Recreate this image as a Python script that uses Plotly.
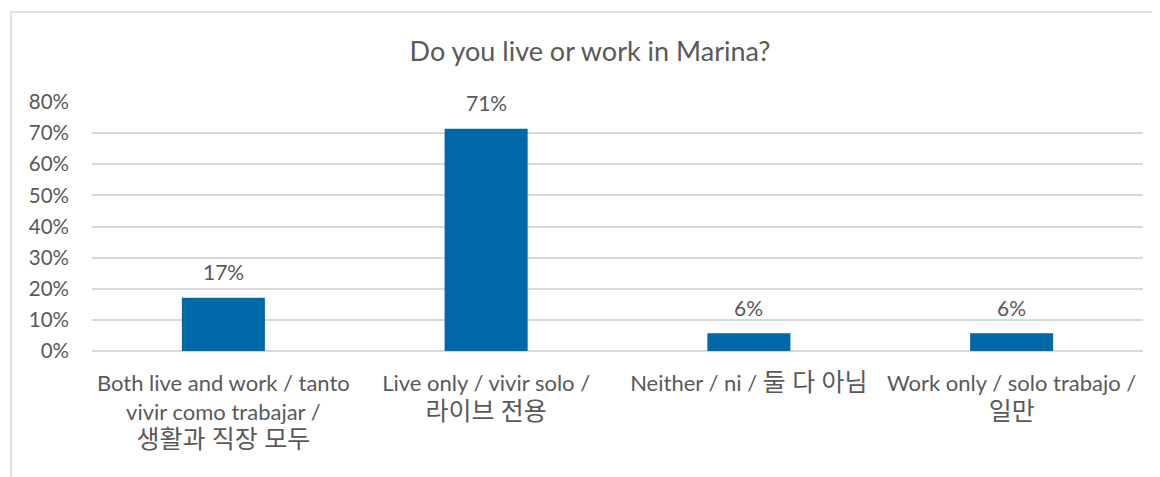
import plotly.graph_objects as go

KR = '<span style="font-size:25px">{}</span>'
categories = [
    "Both live and work / tanto<br>vivir como trabajar /<br>" + KR.format("생활과 직장 모두"),
    "Live only / vivir solo /<br>" + KR.format("라이브 전용"),
    "Neither / ni / " + KR.format("둘 다 아님"),
    "Work only / solo trabajo /<br>" + KR.format("일만"),
]
values = [0.171, 0.714, 0.057, 0.057]
labels = [f"{v:.0%}" for v in values]
tick_vals = [0, 0.1, 0.2, 0.3, 0.4, 0.5, 0.6, 0.7, 0.8]
tick_text = [f"{int(round(t*100))}%" for t in tick_vals]

FONT = "Lato, 'Noto Sans CJK KR', sans-serif"
GRAY = "#595959"

fig = go.Figure(go.Bar(
    x=categories, y=values,
    marker=dict(color="#0067A8", line=dict(width=0)),
    cliponaxis=False,
))

for c, v, t in zip(categories, values, labels):
    fig.add_annotation(x=c, y=v, text=t, showarrow=False,
                       yanchor="middle", yshift=26,
                       font=dict(size=21, color=GRAY, family=FONT))

# page body has an 8px offset; margins compensate
W, H = 1160, 477
L, R, T, B = 84, 25, 94, 134
pw = W - L - R
ph = H - T - B

fig.update_layout(
    width=W, height=H,
    margin=dict(l=L, r=R, t=T, b=B),
    paper_bgcolor="white", plot_bgcolor="white",
    bargap=0.684,
    showlegend=False,
    font=dict(family=FONT, color=GRAY),
    title=dict(text="Do you live or work in Marina?", x=(590 - 8) / W, xanchor="center",
               y=1 - 44 / H, yanchor="middle",
               font=dict(size=27, color=GRAY, family=FONT)),
    xaxis=dict(showgrid=False, showline=False, ticks="",
               tickfont=dict(size=22, color=GRAY, family=FONT),
               ticklabelstandoff=17),
    yaxis=dict(range=[0, 0.8], tickvals=tick_vals, ticktext=tick_text,
               showgrid=True, gridcolor="#D9D9D9", gridwidth=1.5,
               zeroline=True, zerolinecolor="#D9D9D9", zerolinewidth=1.5,
               ticks="", tickfont=dict(size=20.5, color=GRAY, family=FONT),
               ticklabelstandoff=22),
    shapes=[dict(type="rect", xref="paper", yref="paper",
                 x0=(3 - L) / pw, x1=(W + 20 - L) / pw,
                 y0=-(H + 20 - (H - B)) / ph, y1=(H - B - 4) / ph,
                 line=dict(color="#D9D9D9", width=1.5), fillcolor="rgba(0,0,0,0)",
                 layer="below")],
)

fig.write_html("out.html")
